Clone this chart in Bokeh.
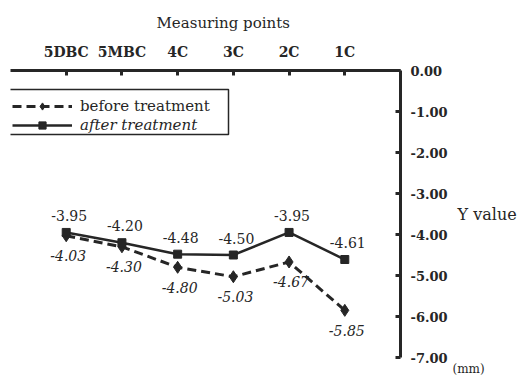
from bokeh.plotting import figure
from bokeh.models import (Range1d, FixedTicker, NumeralTickFormatter, Legend,
                          LegendItem, BoxAnnotation, Title)
from bokeh.core.properties import value
from bokeh.embed import file_html
from bokeh.resources import INLINE

categories = ["5DBC", "5MBC", "4C", "3C", "2C", "1C"]
before_treatment = [-4.03, -4.30, -4.80, -5.03, -4.67, -5.85]
after_treatment = [-3.95, -4.20, -4.48, -4.50, -3.95, -4.61]
y_ticks = [0, -1, -2, -3, -4, -5, -6, -7]

FONT_NAME = "DejaVu Serif"
FONT = value(FONT_NAME)
C = "#262626"

xs = list(range(len(categories)))

p = figure(width=527, height=384, x_range=Range1d(-1, 6), y_range=Range1d(-7, 0),
           x_axis_location="above", y_axis_location="right",
           output_backend="svg", toolbar_location=None,
           min_border_left=10, min_border_right=127, min_border_top=70,
           min_border_bottom=27)
p.outline_line_color = None
p.grid.visible = False

# top axis
xa = p.xaxis[0]
xa.ticker = FixedTicker(ticks=xs)
xa.major_label_overrides = {i: c for i, c in enumerate(categories)}
xa.major_label_text_font = FONT_NAME
xa.major_label_text_font_size = "14px"
xa.major_label_text_font_style = "bold"
xa.major_label_text_color = C
xa.major_label_standoff = 11
xa.axis_line_width = 3
xa.axis_line_color = C
xa.major_tick_line_width = 3
xa.major_tick_line_color = C
xa.major_tick_in = 5
xa.major_tick_out = 0
xa.minor_tick_line_color = None

# x-axis title, slightly right of centre as in the original
p.add_layout(Title(text="Measuring points", align="left", offset=146, standoff=18,
                   text_font=FONT_NAME, text_font_size="15px",
                   text_font_style="normal", text_color=C), "above")

# right axis
ya = p.yaxis[0]
ya.ticker = FixedTicker(ticks=y_ticks)
ya.formatter = NumeralTickFormatter(format="0.00")
ya.axis_label = "Y value"
ya.axis_label_orientation = "horizontal"
ya.axis_label_text_font = FONT_NAME
ya.axis_label_text_font_size = "16px"
ya.axis_label_text_font_style = "normal"
ya.axis_label_text_color = C
ya.axis_label_standoff = 7
ya.major_label_text_font = FONT_NAME
ya.major_label_text_font_size = "13px"
ya.major_label_text_font_style = "bold"
ya.major_label_text_color = C
ya.major_label_standoff = 10
ya.axis_line_width = 3
ya.axis_line_color = C
ya.major_tick_line_width = 3
ya.major_tick_line_color = C
ya.major_tick_in = 5
ya.major_tick_out = 0
ya.minor_tick_line_color = None

# series
rb_line = p.line(xs, before_treatment, line_dash="9 5", line_width=3, color=C)
rb_pts = p.scatter(xs, before_treatment, marker="diamond", size=12, color=C)
ra_line = p.line(xs, after_treatment, line_width=2.5, color=C)
ra_pts = p.scatter(xs, after_treatment, marker="square", size=8, color=C)

p.text(x=xs, y=after_treatment, text=[f"{v:.2f}" for v in after_treatment],
       text_font=FONT, text_font_size="14px", text_align="center",
       text_baseline="middle", x_offset=3, y_offset=-17, text_color=C)
p.text(x=xs, y=before_treatment, text=[f"{v:.2f}" for v in before_treatment],
       text_font=FONT, text_font_size="14px", text_font_style="italic",
       text_align="center", text_baseline="middle", x_offset=2, y_offset=20,
       text_color=C)

# legend
common = dict(glyph_width=60, glyph_height=18, label_height=18, label_standoff=8,
              padding=0, margin=0, spacing=0, border_line_color=None,
              background_fill_alpha=0, label_text_font=FONT_NAME,
              label_text_font_size="15px", label_text_color=C)
leg1 = Legend(items=[LegendItem(label="before treatment", renderers=[rb_line, rb_pts])],
              location=(2, 242), **common)
leg2 = Legend(items=[LegendItem(label="after treatment", renderers=[ra_line, ra_pts])],
              location=(2, 223), label_text_font_style="italic", **common)
p.add_layout(leg1)
p.add_layout(leg2)
p.add_layout(BoxAnnotation(left=-2, right=218, bottom=223, top=268,
                           left_units="screen", right_units="screen",
                           bottom_units="screen", top_units="screen",
                           fill_alpha=0, line_color=C, line_width=1.5, line_alpha=1))

p.add_layout(Title(text="(mm)", align="left", offset=442, standoff=5,
                   text_font=FONT_NAME, text_font_size="12px",
                   text_font_style="normal", text_color=C), "below")

open("out.html", "w").write(file_html(p, INLINE))
